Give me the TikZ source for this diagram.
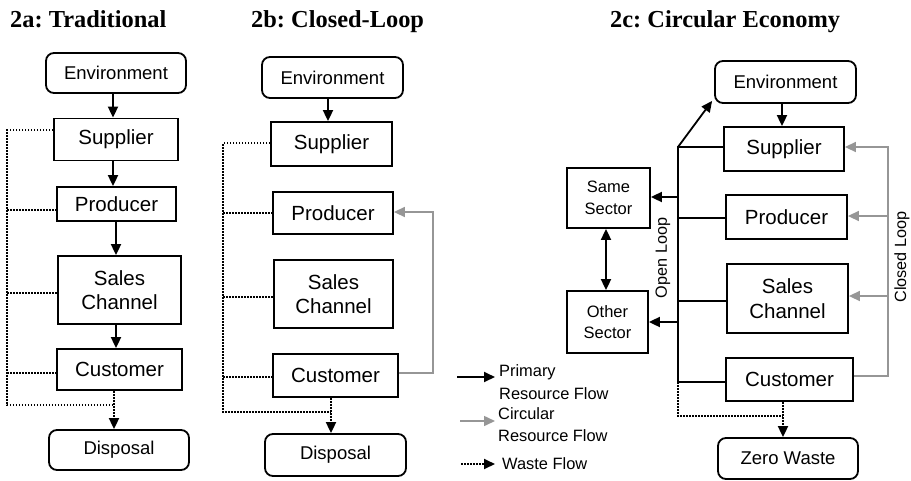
\documentclass[tikz,border=0pt]{standalone}
\usepackage{fontspec}
\setmainfont{Liberation Sans}
\newfontfamily\serifbf{Liberation Serif}
\usetikzlibrary{arrows.meta}
\definecolor{cgray}{RGB}{150,150,150}
\frenchspacing
\begin{document}
\begin{tikzpicture}[x=1pt,y=-1pt,
  box/.style={draw,line width=1.8pt,inner sep=0pt,align=center,font=\fontsize{20.5}{24.5}\selectfont},
  rbox/.style={box,rounded corners=8pt,font=\fontsize{18.5}{22}\selectfont},
  sbox/.style={box,font=\fontsize{16.5}{21.5}\selectfont},
  line/.style={line width=1.8pt},
  arr/.style={line width=1.8pt,-{Triangle[length=11pt,width=10pt]}},
  dblarr/.style={line width=1.8pt,{Triangle[length=11pt,width=10pt]}-{Triangle[length=11pt,width=10pt]}},
  gline/.style={line width=1.5pt,draw=cgray},
  garr/.style={line width=1.5pt,draw=cgray,-{Triangle[length=11pt,width=10pt,fill=cgray]}},
  waste/.style={line width=1.8pt,dash pattern=on 1.6pt off 1.4pt},
  wastearr/.style={waste,-{Triangle[length=11pt,width=10pt]}},
  title/.style={inner sep=0pt,anchor=base west,font=\serifbf\bfseries\fontsize{24.4}{28}\selectfont},
  rot/.style={inner sep=0pt,rotate=90,font=\fontsize{16.2}{19}\selectfont},
  legt/.style={inner sep=0pt,anchor=west,align=left,font=\fontsize{16.4}{22.5}\selectfont}
]
\useasboundingbox (0,0) rectangle (911,480);

% titles
\node[title] (ta) at (10,27) {2a: Traditional};
\node[title] (tb) at (251,27) {2b: Closed-Loop};
\node[title] (tc) at (610,27) {2c: Circular Economy};

% ---------- panel a ----------
\coordinate (wa1) at (7,130);
\coordinate (wa2) at (7,210);
\coordinate (wa3) at (7,293);
\coordinate (wa4) at (7,373);
\coordinate (wa5) at (7,405);
\coordinate (wa6) at (114,405);

\node[rbox,minimum width=140pt,minimum height=40pt] (envA) at (116,73) {Environment};
\node[box,minimum width=124pt,minimum height=42pt] (supA) at (116,139.5) {Supplier};
\node[box,minimum width=119pt,minimum height=34pt] (proA) at (116.5,204) {Producer};
\node[box,minimum width=123pt,minimum height=68pt] (salA) at (119.5,290) {Sales\\Channel};
\node[box,minimum width=125pt,minimum height=41pt] (cusA) at (119.5,369.5) {Customer};
\node[rbox,minimum width=140pt,minimum height=40pt] (disA) at (119,450) {Disposal};

\coordinate (xa1) at (113,0);
\coordinate (xa2) at (116,0);
\draw[arr] (envA.south -| xa1) -- (supA.north -| xa1);
\draw[arr] (supA.south -| xa1) -- (proA.north -| xa1);
\draw[arr] (proA.south -| xa2) -- (salA.north -| xa2);
\draw[arr] (salA.south -| xa2) -- (cusA.north -| xa2);

\draw[waste] (wa1 -| supA.west) -- (wa1) -- (wa5) -- (wa6);
\draw[waste] (wa2) -- (wa2 -| proA.west);
\draw[waste] (wa3) -- (wa3 -| salA.west);
\draw[waste] (wa4) -- (wa4 -| cusA.west);
\draw[wastearr] (cusA.south -| wa6) -- (disA.north -| wa6);

% ---------- panel b ----------
\node[rbox,minimum width=141pt,minimum height=41pt] (envB) at (332.5,77.5) {Environment};
\node[box,minimum width=121pt,minimum height=44pt] (supB) at (331.5,144) {Supplier};
\node[box,minimum width=120pt,minimum height=42pt] (proB) at (333,213) {Producer};
\node[box,minimum width=119pt,minimum height=68pt] (salB) at (333.5,294) {Sales\\Channel};
\node[box,minimum width=125pt,minimum height=43pt] (cusB) at (335.5,375.5) {Customer};
\node[rbox,minimum width=141pt,minimum height=42pt] (disB) at (335.5,455) {Disposal};

\coordinate (xb1) at (328,0);
\draw[arr] (envB.south -| xb1) -- (supB.north -| xb1);

\coordinate (wb1) at (223,143);
\coordinate (wb2) at (223,213);
\coordinate (wb3) at (223,297);
\coordinate (wb4) at (223,377);
\coordinate (wb5) at (223,412);
\coordinate (wb6) at (331,412);
\draw[waste] (wb1 -| supB.west) -- (wb1) -- (wb5) -- (wb6);
\draw[waste] (wb2) -- (wb2 -| proB.west);
\draw[waste] (wb3) -- (wb3 -| salB.west);
\draw[waste] (wb4) -- (wb4 -| cusB.west);
\draw[wastearr] (cusB.south -| wb6) -- (disB.north -| wb6);

\coordinate (gb1) at (433,373);
\coordinate (gb2) at (433,212);
\draw[garr] (gb1 -| cusB.east) -- (gb1) -- (gb2) -- (gb2 -| proB.east);

% ---------- panel c ----------
\node[rbox,minimum width=141pt,minimum height=42pt] (envC) at (785.5,82) {Environment};
\node[box,minimum width=120pt,minimum height=44pt] (supC) at (784,149) {Supplier};
\node[box,minimum width=121pt,minimum height=44pt] (proC) at (786.5,217) {Producer};
\node[box,minimum width=121pt,minimum height=69pt] (salC) at (787.5,298.5) {Sales\\Channel};
\node[box,minimum width=127pt,minimum height=43pt] (cusC) at (789.5,379.5) {Customer};
\node[rbox,minimum width=140pt,minimum height=41pt] (zwC) at (788,458.5) {Zero Waste};
\node[sbox,minimum width=83pt,minimum height=60pt] (same) at (608.5,198) {Same\\Sector};
\node[sbox,minimum width=81pt,minimum height=62pt] (other) at (607.5,322) {Other\\Sector};

\coordinate (xc1) at (782,0);
\draw[arr] (envC.south -| xc1) -- (supC.north -| xc1);

\coordinate (ol1) at (678,147);
\coordinate (ol2) at (678,382);
\draw[line] (ol1 -| supC.west) -- (ol1) -- (ol2) -- (ol2 -| cusC.west);
\draw[arr] (ol1) -- ([shift={(-2,-3)}]envC.south west);
\coordinate (olp) at (678,218);
\coordinate (olsa) at (678,301);
\draw[line] (olp) -- (olp -| proC.west);
\draw[line] (olsa) -- (olsa -| salC.west);
\coordinate (ols) at (678,197);
\coordinate (olo) at (678,322);
\draw[arr] (ols) -- (ols -| same.east);
\draw[arr] (olo) -- (olo -| other.east);
\coordinate (xs) at (606,0);
\draw[dblarr] (same.south -| xs) -- (other.north -| xs);
\node[rot] (olt) at (663,258) {Open Loop};

\coordinate (cl1) at (888,147);
\coordinate (cl2) at (888,376);
\coordinate (cl3) at (888,216);
\coordinate (cl4) at (888,296);
\draw[garr] (cl2 -| cusC.east) -- (cl2) -- (cl1) -- (cl1 -| supC.east);
\draw[garr] (cl3) -- (cl3 -| proC.east);
\draw[garr] (cl4) -- (cl4 -| salC.east);
\node[rot] (clt) at (902,257) {Closed Loop};

\coordinate (wc1) at (678,382);
\coordinate (wc2) at (678,416);
\coordinate (wc3) at (783,416);
\draw[waste] (wc1) -- (wc2) -- (wc3);
\draw[wastearr] (cusC.south -| wc3) -- (zwC.north -| wc3);

% ---------- legend ----------
\coordinate (l1a) at (457,377);
\coordinate (l1b) at (495,377);
\draw[arr] (l1a) -- (l1b);
\node[legt] (lt1) at (499,382) {Primary\\Resource Flow};
\coordinate (l2a) at (460,421);
\coordinate (l2b) at (495,421);
\draw[garr] (l2a) -- (l2b);
\node[legt] (lt2) at (498,424.5) {Circular\\Resource Flow};
\coordinate (l3a) at (461,464);
\coordinate (l3b) at (495,464);
\draw[wastearr] (l3a) -- (l3b);
\node[legt] (lt3) at (502,464) {Waste Flow};
\end{tikzpicture}
\end{document}
